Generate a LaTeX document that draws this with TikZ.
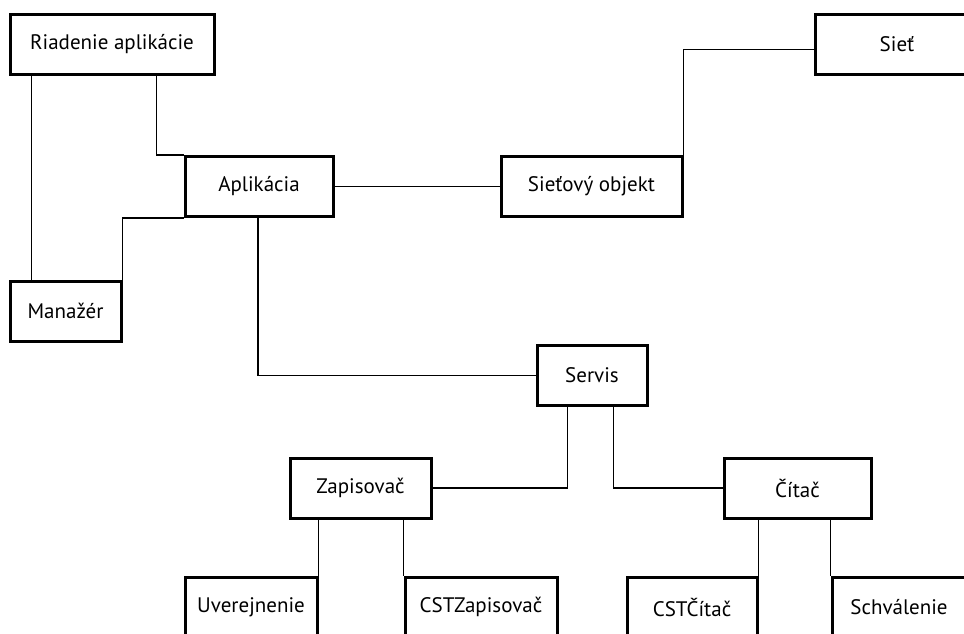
\documentclass[tikz,border=0pt]{standalone}
\usepackage{fontspec}
\setmainfont{PT Sans}

\begin{document}
\begin{tikzpicture}[x=1pt, y=-1pt,
    box/.style={draw, rectangle, line width=3pt, minimum height=60pt, inner sep=0pt,
        font=\fontsize{21}{25}\selectfont},
    link/.style={line width=1.3pt}]
    \useasboundingbox (0,0) rectangle (964,634);
    \clip (0,0) rectangle (964,634);
    % boxes
    \node[box, minimum width=204pt] (riad) at (112,44.5) {Riadenie aplikácie};
    \node[box, minimum width=164pt] (siet) at (897,44.5) {Sieť};
    \node[box, minimum width=148pt] (apl) at (259,186.5) {Aplikácia};
    \node[box, minimum width=181pt] (sobj) at (591.5,186.5) {Sieťový objekt};
    \node[box, minimum width=111pt] (man) at (65.5,311) {Manažér};
    \node[box, minimum width=110pt] (serv) at (592,375.5) {Servis};
    \node[box, minimum width=141pt] (zap) at (360.5,488) {Zapisovač};
    \node[box, minimum width=147pt] (cit) at (797.5,488) {Čítač};
    \foreach \n/\x/\w/\t in {uver/251/132/Uverejnenie, cstz/481/152/CSTZapisovač,
                            cstc/692/130/CSTČítač, schv/899/134/Schválenie} {
        \node[box, minimum width=\w pt] (\n) at (\x,607) {\t};
    }
    % connectors
    \draw[link] ([xshift=23pt]riad.south west) -- ([xshift=23pt]man.north west);
    \draw[link] ([xshift=-59pt]riad.south east) |- (apl.north west);
    \draw[link] (apl.south west) -| (man.north east);
    \draw[link] (apl.east) -- (sobj.west);
    \draw[link] (sobj.north east) |- ([yshift=-5pt]siet.west);
    \draw[link] ([xshift=-1pt]apl.south) |- (serv.west);
    \draw[link] ([xshift=32pt]serv.south west) |- (zap.east);
    \draw[link] ([xshift=-35pt]serv.south east) |- (cit.west);
    \foreach \a/\b in {zap/uver.north east, zap/cstz.north west,
                       cit/cstc.north east, cit/schv.north west} {
        \draw[link] (\b |- \a.south) -- (\b);
    }
\end{tikzpicture}
\end{document}
